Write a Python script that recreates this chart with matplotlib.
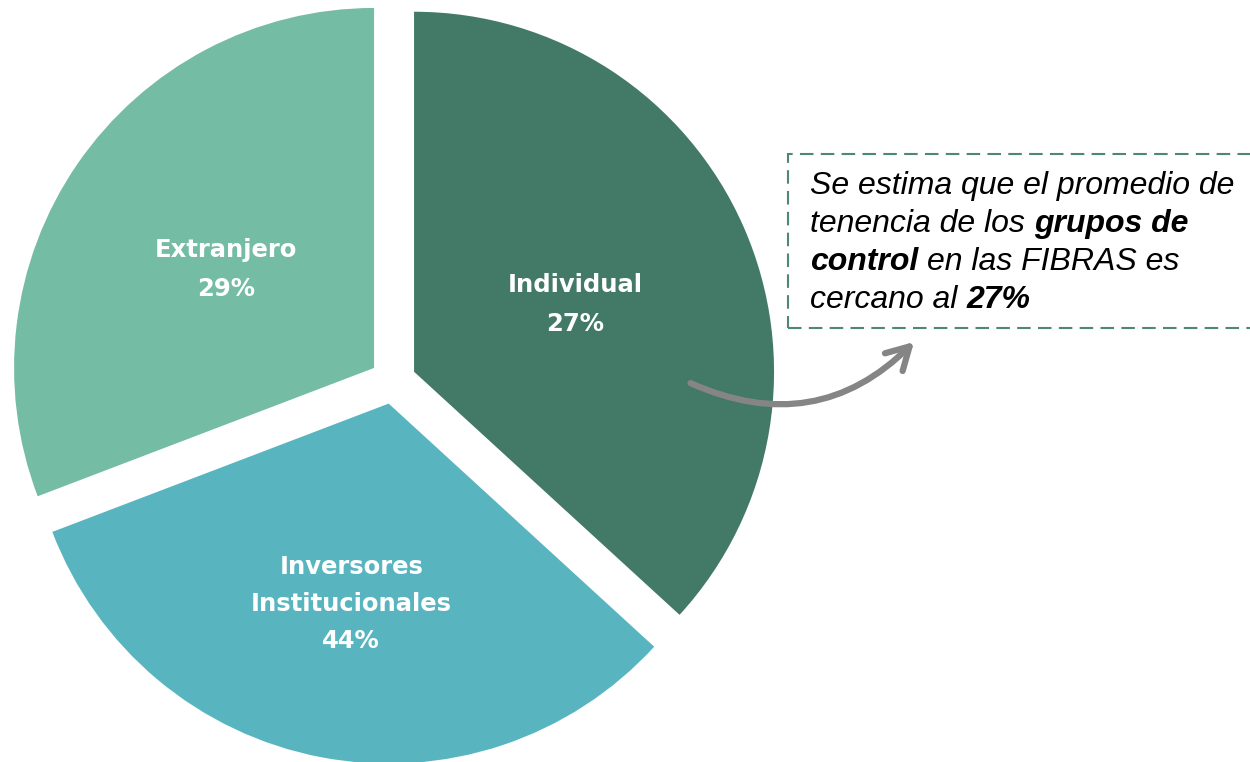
import matplotlib
matplotlib.use("Agg")
import matplotlib.pyplot as plt
import numpy as np
from matplotlib.patches import Rectangle, FancyArrowPatch

# datos (tamaño de las rebanadas tal como se ven en la imagen)
categorias = ["Individual", "Inversores\nInstitucionales", "Extranjero"]
tamanos = [36.8, 32.4, 30.8]
etiquetas_pct = ["27%", "44%", "29%"]
colores = ["#437A67", "#58B5C0", "#75BCA5"]

fig = plt.figure(figsize=(12.5, 7.62), dpi=100)
ax = fig.add_axes([0, 0, 1, 1])

wedges, _ = ax.pie(tamanos, colors=colores, startangle=90, counterclock=False,
                   center=(393, 381), radius=360, explode=[23, 23, 23],
                   wedgeprops=dict(linewidth=0))
ax.set_xlim(0, 1250)
ax.set_ylim(0, 762)
ax.set_aspect("equal")
ax.axis("off")

# etiquetas dentro de las rebanadas
dist = [0.49, 0.555, 0.5]
espaciado = [1.8, 1.68, 1.8]
for w, cat, pct, d, ls in zip(wedges, categorias, etiquetas_pct, dist, espaciado):
    th = np.deg2rad((w.theta1 + w.theta2) / 2)
    cx, cy = w.center
    ax.text(cx + d * w.r * np.cos(th), cy + d * w.r * np.sin(th) - 4, cat + "\n" + pct,
            ha="center", va="center", color="white", fontsize=17.5,
            fontweight="bold", linespacing=ls)

# recuadro con nota
ax.add_patch(Rectangle((788, 762 - 328), 520, 174, fill=False,
                       edgecolor="#4E8872", linewidth=1.5,
                       linestyle=(0, (6.5, 3.5))))

lineas = [
    [("Se estima que el promedio de", "normal")],
    [("tenencia de los", "normal"), ("grupos de", "bold")],
    [("control", "bold"), ("en las FIBRAS es", "normal")],
    [("cercano al", "normal"), ("27%", "bold")],
]
fig.canvas.draw()
rend = fig.canvas.get_renderer()
kw = dict(fontsize=23, style="italic", family="Liberation Sans", va="baseline",
          color="black")
t1 = ax.text(0, 0, "x x", **kw)
t2 = ax.text(0, 0, "xx", **kw)
espacio = t1.get_window_extent(rend).width - t2.get_window_extent(rend).width
t1.remove()
t2.remove()

y = 762 - 194
for linea in lineas:
    x = 810
    for s, peso in linea:
        t = ax.text(x, y, s, fontweight=peso, **kw)
        x += t.get_window_extent(rend).width + espacio
    y -= 38

# flecha curva
ax.add_patch(FancyArrowPatch((688, 762 - 382), (916, 762 - 340),
                             connectionstyle="arc3,rad=0.35",
                             arrowstyle="->,head_length=16,head_width=9",
                             color="#858585", linewidth=4.5, capstyle="round"))

fig.savefig("out.png", dpi=100)
